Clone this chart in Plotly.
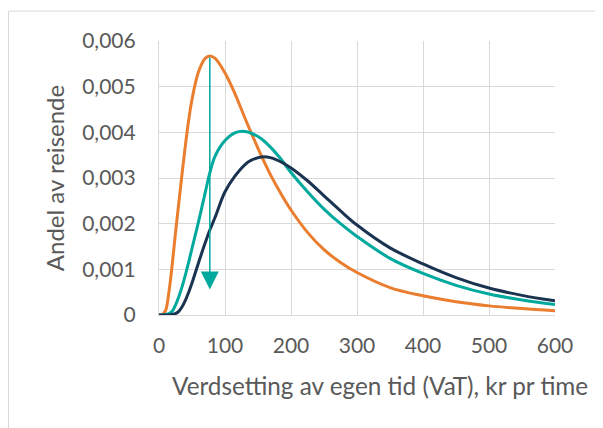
import plotly.graph_objects as go

# Shared x values (kr per time)
vat = [0, 5, 10, 15, 20, 25, 30, 35, 40, 45, 50, 60, 70, 77, 85, 100, 115, 130, 140,
       155, 170, 185, 200, 225, 250, 275, 300, 350, 400, 450, 500, 550, 600]

orange_share = [0, 0.00001, 0.0001, 0.0005, 0.0011, 0.0018, 0.00245, 0.0031, 0.00372,
                0.00427, 0.00472, 0.00533, 0.00562, 0.00567, 0.00562, 0.0053, 0.00485,
                0.00432, 0.00398, 0.00349, 0.00304, 0.00265, 0.0023, 0.00181, 0.00143,
                0.00115, 0.00093, 0.0006, 0.00042, 0.00029, 0.0002, 0.00014, 0.000095]

teal_share = [0, 0, 0.00001, 0.00003, 0.00008, 0.00022, 0.0004, 0.00062, 0.00088, 0.00116,
              0.00146, 0.00205, 0.00268, 0.00311, 0.00348, 0.00382, 0.00399, 0.00402,
              0.00398, 0.00386, 0.00366, 0.00341, 0.00312, 0.0027, 0.00232, 0.002,
              0.00172, 0.00124, 0.00091, 0.00065, 0.00046, 0.00033, 0.00023]

navy_share = [0, 0, 0, 0, 0.00001, 0.00003, 0.00008, 0.00018, 0.00032, 0.0005, 0.0007,
              0.00115, 0.00158, 0.00186, 0.00214, 0.0027, 0.00304, 0.00329, 0.00339,
              0.00346, 0.00344, 0.00335, 0.00322, 0.00294, 0.00261, 0.00228, 0.00197,
              0.00147, 0.00112, 0.00082, 0.00059, 0.00043, 0.00031]

x_ticks = [0, 100, 200, 300, 400, 500, 600]
x_tick_labels = ["0", "100", "200", "300", "400", "500", "600"]
y_ticks = [0, 0.001, 0.002, 0.003, 0.004, 0.005, 0.006]
y_tick_labels = ["0", "0,001", "0,002", "0,003", "0,004", "0,005", "0,006"]

x_title = "Verdsetting av egen tid (VaT), kr pr time"
y_title = "Andel av reisende"

# Arrow: from orange peak down
arrow_x = 77
arrow_top = 0.00567
arrow_tip = 0.00056

ORANGE = "#EB7D2F"
TEAL = "#00A99D"
NAVY = "#1A3350"
GRID = "#D9D9D9"
TXT = "#595959"
FONT = "Lato, Open Sans, sans-serif"

fig = go.Figure()
for ys, col in [(orange_share, ORANGE), (teal_share, TEAL), (navy_share, NAVY)]:
    fig.add_trace(go.Scatter(x=vat, y=ys, mode="lines",
                             line=dict(color=col, width=3, shape="spline", smoothing=1.0),
                             showlegend=False, hoverinfo="skip"))

fig.add_annotation(x=arrow_x, y=arrow_tip, ax=arrow_x, ay=arrow_top,
                   xref="x", yref="y", axref="x", ayref="y",
                   text="", showarrow=True, arrowhead=2, arrowsize=2.4,
                   arrowwidth=1.5, arrowcolor=TEAL, standoff=0, startstandoff=0)

# page is offset by 8px body margin; positions below are in figure pixels
W, H = 603, 428
L, T = 151, 33
PR, PB = 547, 307.5
R, B = W - PR, H - PB
pw, ph = PR - L, PB - T
fig.add_shape(type="rect", xref="paper", yref="paper",
              x0=(0.5 - L) / pw, x1=(594 - L) / pw,
              y0=(PB - 450) / ph, y1=(PB - 3) / ph,
              line=dict(color=GRID, width=1), fillcolor="rgba(0,0,0,0)", layer="below")

# x-axis title (sits right of the plot centre, as in the original)
fig.add_annotation(text=x_title, xref="paper", yref="paper",
                   x=(372 - L) / pw, y=(PB - 378) / ph,
                   xanchor="center", yanchor="middle", showarrow=False,
                   font=dict(size=24.3, color=TXT, family=FONT))

fig.update_layout(
    width=W, height=H,
    margin=dict(l=L, r=R, t=T, b=B, autoexpand=False),
    paper_bgcolor="white", plot_bgcolor="white",
    font=dict(family=FONT, color=TXT, size=21),
    xaxis=dict(range=[0, 600], tickvals=x_ticks, ticktext=x_tick_labels,
               showgrid=True, gridcolor=GRID, gridwidth=1.2,
               showline=True, linecolor=GRID, linewidth=1.2,
               zeroline=False, ticks="", ticklabelstandoff=12,
               tickfont=dict(size=21, color=TXT),
               automargin=False),
    yaxis=dict(range=[0, 0.006], tickvals=y_ticks, ticktext=y_tick_labels,
               showgrid=True, gridcolor=GRID, gridwidth=1.2,
               showline=True, linecolor=GRID, linewidth=1.2,
               zeroline=False, ticks="", ticklabelstandoff=18,
               tickfont=dict(size=21, color=TXT),
               title=dict(text=y_title,
                          font=dict(size=24, color=TXT), standoff=10),
               automargin=False),
)

fig.write_html("out.html")
